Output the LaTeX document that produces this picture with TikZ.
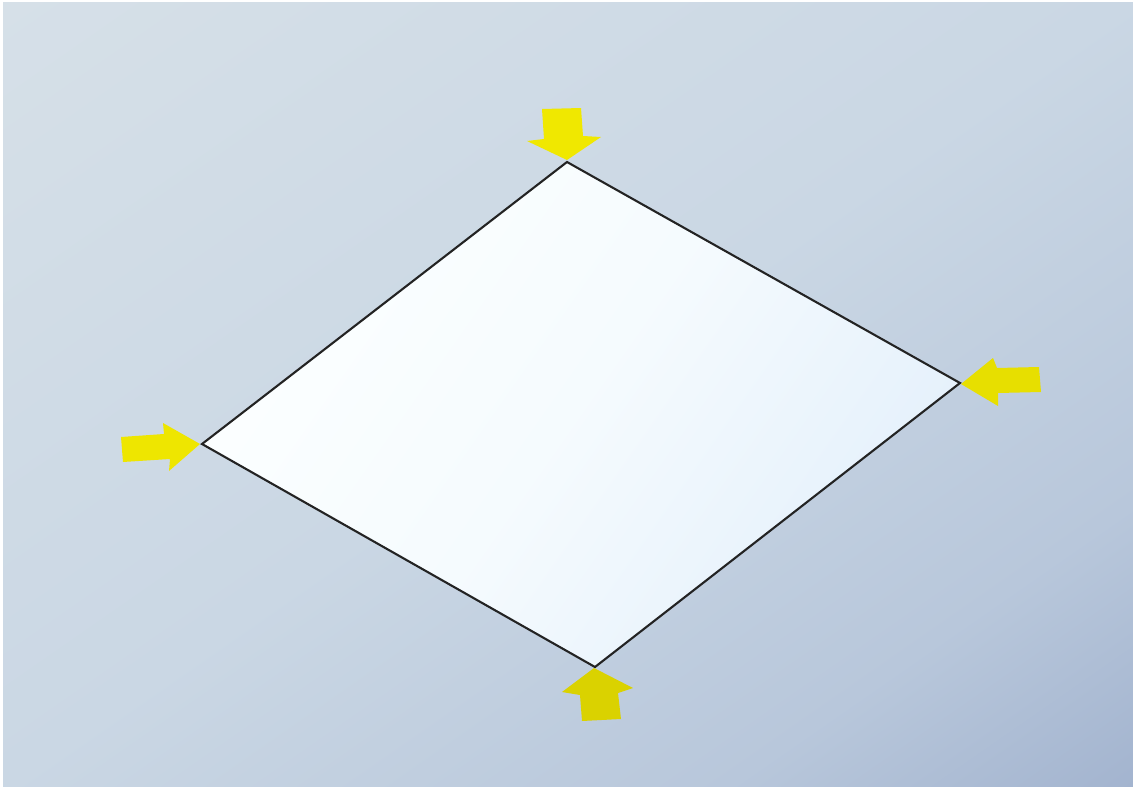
\documentclass[tikz,border=0pt]{standalone}
\definecolor{bgA}{RGB}{214,224,232}
\definecolor{bgM}{RGB}{202,215,228}
\definecolor{bgN}{RGB}{184,199,219}
\definecolor{bgB}{RGB}{163,180,207}
\pgfdeclareverticalshading{bgshade}{100bp}{color(0bp)=(bgB); color(25bp)=(bgB); color(34bp)=(bgN); color(50bp)=(bgM); color(75bp)=(bgA); color(100bp)=(bgA)}
\begin{document}
\begin{tikzpicture}[x=1pt,y=-1pt]
\definecolor{faceA}{RGB}{252,255,255}
\definecolor{faceB}{RGB}{228,240,251}
\definecolor{arrowhi}{RGB}{240,232,0}
\definecolor{arrowlo}{RGB}{218,210,0}
\tikzset{
  yarrow/.style={fill=#1, draw=none},
  plate/.style={draw={rgb,255:red,35;green,35;blue,35}, line width=2.1pt, line join=miter},
}
\useasboundingbox (0,0) rectangle (1133,787);
\fill[white] (0,0) rectangle (1133,787);
% background
\begin{scope}
\clip (3,2) rectangle (1133,787);
\begin{scope}[transform canvas={rotate=34.8}]
\shade[shading=bgshade] (-470pt,-1292.8pt) rectangle (950pt,0pt);
\end{scope}
\end{scope}
% plate
\coordinate (T) at (567,162);
\coordinate (R) at (960,383);
\coordinate (B) at (595,667);
\coordinate (L) at (202,444);
\shade[top color=faceA, bottom color=faceB, middle color=faceA!70!faceB, shading angle=55] (T) -- (R) -- (B) -- (L) -- cycle;
\draw[plate] (T) -- (R) -- (B) -- (L) -- cycle;
% arrows
\fill[yarrow=arrowhi] (542,109) -- (581,108) -- (583,136) -- (601,137) -- (567,160) -- (527,141) -- (544,139) -- cycle;
\fill[yarrow=arrowhi!92!arrowlo] (121,437) -- (164,434) -- (163,423) -- (200,444) -- (169,471) -- (170,459) -- (123,462) -- cycle;
\fill[yarrow=arrowhi!60!arrowlo] (961,384) -- (993,358) -- (997,368) -- (1039,367) -- (1041,392) -- (998,393) -- (998,406) -- cycle;
\fill[yarrow=arrowlo] (594,668) -- (633,688) -- (618,693) -- (621,719) -- (582,721) -- (580,695) -- (562,692) -- cycle;
\end{tikzpicture}
\end{document}
